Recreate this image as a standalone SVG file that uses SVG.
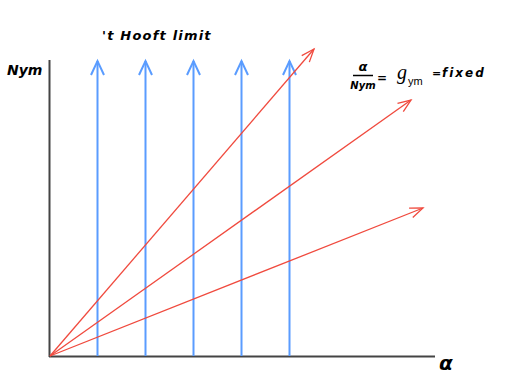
<svg xmlns="http://www.w3.org/2000/svg" width="514" height="390" viewBox="0 0 514 390">
<style>
.axis{stroke:#444;stroke-width:2;fill:none}
.blue{stroke:#5a9cff;stroke-width:2;fill:none}
.red{stroke:#f04a3e;stroke-width:1.3;fill:none}
.hand{font-family:"DejaVu Sans",sans-serif;font-weight:bold;font-style:italic;fill:#000}
.plain{font-family:"Liberation Sans",Arial,sans-serif;fill:#000}
.script{font-family:"Liberation Serif",serif;font-style:italic;fill:#000}
</style>
<defs>
<marker id="bh" markerUnits="userSpaceOnUse" markerWidth="20" markerHeight="20" viewBox="-16 -10 20 20" refX="0" refY="0" orient="auto">
<path d="M-14,-6.5 L0,0 L-14,6.5" stroke="#5a9cff" stroke-width="2" fill="none"/>
</marker>
<marker id="rh" markerUnits="userSpaceOnUse" markerWidth="20" markerHeight="20" viewBox="-16 -10 20 20" refX="0" refY="0" orient="auto">
<path d="M-13,-5 L0,0 L-13,5" stroke="#f04a3e" stroke-width="1.3" fill="none"/>
</marker>
</defs>
<g id="axes">
<line class="axis" x1="49.5" y1="60" x2="49.5" y2="357"/>
<line class="axis" x1="49" y1="356.5" x2="435" y2="356.5"/>
</g>
<g id="connectors">
<line class="blue" x1="97.5" y1="356" x2="97.5" y2="61" marker-end="url(#bh)"/>
<line class="blue" x1="145.5" y1="356" x2="145.5" y2="61" marker-end="url(#bh)"/>
<line class="blue" x1="193.5" y1="356" x2="193.5" y2="61" marker-end="url(#bh)"/>
<line class="blue" x1="241.5" y1="356" x2="241.5" y2="61" marker-end="url(#bh)"/>
<line class="blue" x1="289.5" y1="356" x2="289.5" y2="61" marker-end="url(#bh)"/>
<line class="red" x1="50" y1="356" x2="314" y2="49" marker-end="url(#rh)"/>
<line class="red" x1="50" y1="356" x2="411" y2="100" marker-end="url(#rh)"/>
<line class="red" x1="50" y1="356" x2="423" y2="208" marker-end="url(#rh)"/>
</g>
<g id="labels">
<text class="hand" x="102" y="40" font-size="13" letter-spacing="1.2">'t Hooft limit</text>
<text class="hand" x="7" y="75" font-size="14">Nym</text>
<text class="hand" x="439" y="370" font-size="20">α</text>
</g>
<g id="formula">
<text class="hand" x="363" y="71" font-size="13" text-anchor="middle">α</text>
<line x1="353" y1="75.5" x2="373" y2="75.5" stroke="#000" stroke-width="1.5"/>
<text class="hand" x="363" y="89" font-size="10" text-anchor="middle">Nym</text>
<text class="hand" x="377" y="82" font-size="12">=</text>
<text class="script" x="397" y="79" font-size="20">g</text>
<text class="plain" x="408" y="85" font-size="11">ym</text>
<text class="hand" x="432" y="77" font-size="11">=</text>
<text class="hand" x="442" y="77" font-size="12" letter-spacing="2">fixed</text>
</g>
</svg>
